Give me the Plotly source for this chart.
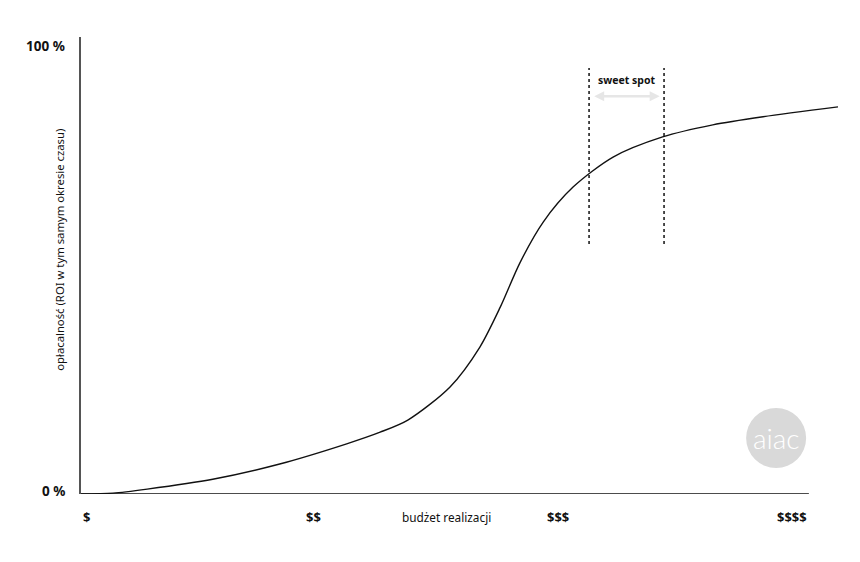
import plotly.graph_objects as go

# curve: budget (0-100 scale, beyond 100 allowed) vs ROI %
budget = [0, 4.4, 9.1, 18.1, 27.3, 36.5, 41.1, 44.9, 50.7, 54.8, 57.6, 60.3, 63.5,
          67.6, 73.1, 79.9, 86.8, 93.7, 104.0]
roi = [0, 0.2, 1.1, 3.3, 6.7, 11.2, 13.8, 16.5, 23.9, 32.8, 41.7, 51.6, 60.7,
       68.5, 75.2, 79.7, 82.4, 84.2, 86.4]

x_tick_labels = ["$", "$$", "$$$", "$$$$"]
x_tick_pos = [0, 32, 65.5, 100]
x_tick_anchor = ["left", "center", "center", "right"]

y_tick_labels = ["0 %", "100 %"]
y_tick_pos = [0, 100]

sweet_spot = [69.8, 80.1]
sweet_spot_y = [55.8, 95.1]

FONT = "'Noto Sans', 'Open Sans', sans-serif"

fig = go.Figure()
fig.add_trace(go.Scatter(x=budget, y=roi, mode="lines",
                         line=dict(color="#111111", width=1.4, shape="spline", smoothing=0.8),
                         hoverinfo="skip", showlegend=False))

# x-axis baseline
fig.add_shape(type="line", xref="x", yref="y", x0=0, x1=100, y0=0, y1=0,
              line=dict(color="#111111", width=1.5))

# sweet spot dotted lines
for sx in sweet_spot:
    fig.add_shape(type="line", xref="x", yref="y", x0=sx, x1=sx,
                  y0=sweet_spot_y[0], y1=sweet_spot_y[1],
                  line=dict(color="#111111", width=1.5, dash="dot"))

# double arrow
fig.add_annotation(x=sweet_spot[1] - 0.6, y=88.8, ax=sweet_spot[0] + 0.5, ay=88.8,
                   xref="x", yref="y", axref="x", ayref="y", text="",
                   showarrow=True, arrowhead=2, startarrowhead=2, arrowside="end+start",
                   arrowsize=0.8, startarrowsize=0.8,
                   arrowwidth=2.5, arrowcolor="#e6e6e6")
fig.add_annotation(x=(sweet_spot[0] + sweet_spot[1]) / 2, y=92.4, xref="x", yref="y",
                   text="<b>sweet spot</b>", showarrow=False,
                   font=dict(family=FONT, size=10.5, color="#111111"))

# x tick labels
for lab, pos, anc in zip(x_tick_labels, x_tick_pos, x_tick_anchor):
    fig.add_annotation(x=pos, y=0, xref="x", yref="y", yshift=-23, text=f"<b>{lab}</b>",
                       showarrow=False, xanchor=anc,
                       font=dict(family=FONT, size=13, color="#111111"))
fig.add_annotation(x=50.2, y=0, xref="x", yref="y", yshift=-23, text="budżet realizacji",
                   showarrow=False, font=dict(family=FONT, size=11.8, color="#111111"))

# y tick labels
for lab, pos, ys in zip(y_tick_labels, y_tick_pos, [3, 0]):
    fig.add_annotation(x=0, y=pos, xref="x", yref="y", xshift=-14, yshift=ys,
                       text=f"<b>{lab}</b>", showarrow=False, xanchor="right",
                       font=dict(family=FONT, size=13.5, color="#111111"))

# y axis title
fig.add_annotation(x=0, y=54.5, xref="paper", yref="y", xshift=-21, xanchor="center",
                   yanchor="middle", textangle=-90,
                   text="opłacalność (ROI w tym samym okresie czasu)", showarrow=False,
                   font=dict(family=FONT, size=11.3, color="#111111"))

# logo
fig.add_shape(type="circle", xref="x", yref="y", xsizemode="pixel", ysizemode="pixel",
              xanchor=95.5, yanchor=12.5, x0=-30, x1=30, y0=-30, y1=30,
              fillcolor="#d9d9d9", line=dict(width=0))
fig.add_annotation(x=95.5, y=12.5, xref="x", yref="y", text="aiac", showarrow=False,
                   font=dict(family="Lato, sans-serif", size=28, color="white", weight=300))

fig.update_layout(
    width=860, height=562,
    margin=dict(l=73, r=30, t=29, b=76),
    paper_bgcolor="white", plot_bgcolor="white",
    font=dict(family=FONT, color="#111111"),
    xaxis=dict(range=[0, 104], showgrid=False, zeroline=False, showline=False,
               showticklabels=False, ticks=""),
    yaxis=dict(range=[0, 102], showgrid=False, zeroline=False, showline=True,
               linecolor="#555555", linewidth=1.5, showticklabels=False, ticks=""),
)

fig.write_html("out.html")
